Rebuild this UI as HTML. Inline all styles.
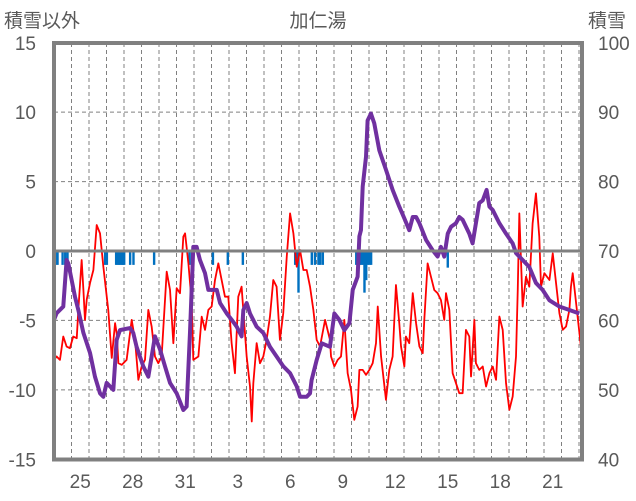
<!DOCTYPE html>
<html><head><meta charset="utf-8">
<style>
body{margin:0;background:#fff;}
svg{display:block;font-family:"Liberation Sans","Noto Sans CJK JP",sans-serif;}
</style></head>
<body>
<svg id="chart" width="636" height="501" viewBox="0 0 636 501">
<text x="4" y="27" font-size="19" fill="#595959">積雪以外</text>
<text x="318" y="27" font-size="19" fill="#595959" text-anchor="middle">加仁湯</text>
<text x="588" y="27" font-size="19" fill="#595959">積雪</text>
<g id="grid"></g>
<g id="bars"></g>
<g id="lines"></g>
<g id="axes"></g>
</svg>
<script>
const dayLabels=["25","28","31","3","6","9","12","15","18","21"];
const leftTicks=[15,10,5,0,-5,-10,-15];
const rightTicks=[100,90,80,70,60,50,40];
const tempTimes=[0,0.15,0.34,0.53,0.72,0.91,1.1,1.3,1.39,1.58,1.68,1.77,1.87,2.06,2.25,2.44,2.63,2.82,3.1,3.3,3.49,3.58,3.68,3.87,4.15,4.44,4.63,4.82,5.01,5.2,5.39,5.58,5.77,5.96,6.15,6.44,6.63,6.82,7.01,7.2,7.39,7.49,7.68,7.87,7.96,8.25,8.44,8.63,8.82,9.01,9.2,9.39,9.58,9.77,9.96,10.15,10.34,10.53,10.72,11.01,11.2,11.3,11.39,11.58,11.77,11.96,12.15,12.34,12.53,12.72,12.91,13.1,13.3,13.49,13.68,13.87,14.06,14.25,14.44,14.63,14.82,15.01,15.2,15.49,15.77,15.83,16.02,16.21,16.4,16.59,16.78,16.97,17.16,17.35,17.45,17.64,17.83,18.02,18.21,18.4,18.5,18.69,18.97,19.16,19.35,19.54,19.73,19.83,20.02,20.11,20.3,20.5,20.69,20.88,21.07,21.16,21.35,21.54,21.73,21.92,22.11,22.3,22.4,22.59,22.78,22.97,23.16,23.35,23.54,23.73,23.83,23.92,24.02,24.11,24.3,24.5,24.69,24.88,25.07,25.26,25.45,25.64,25.83,26.02,26.21,26.4,26.5,26.59,26.78,26.97,27.16,27.35,27.54,27.73,27.83,28.02,28.31,28.5,28.69,28.88,29.07,29.26,29.45,29.54,29.64,29.73,29.92,30.11];
const tempValues=[-7.84,-7.6,-7.84,-6.16,-6.88,-7.0,-6.16,-6.28,-4.24,-0.65,-2.8,-4.96,-3.5,-2.3,-1.37,1.87,1.27,-1.13,-4.24,-7.7,-5.2,-5.92,-8.08,-8.2,-7.84,-4.96,-6.4,-9.28,-8.32,-7.84,-4.24,-5.44,-7.6,-8.08,-7.6,-1.49,-2.8,-6.64,-2.68,-3.04,1.03,1.27,-0.89,-3.76,-7.84,-7.6,-4.73,-5.68,-4.24,-4.0,-2.09,-0.89,-2.09,-3.29,-3.29,-6.64,-8.8,-3.29,-2.57,-7.6,-9.76,-12.28,-9.52,-6.64,-8.08,-7.6,-6.4,-4.73,-2.09,-2.57,-6.4,-4.48,-0.41,2.71,1.27,-1.13,0.07,-1.37,-1.37,-2.57,-4.24,-6.4,-6.88,-4.96,-6.4,-7.6,-8.32,-7.84,-7.6,-4.96,-8.8,-10.0,-12.16,-11.2,-8.56,-8.56,-8.92,-8.56,-8.08,-6.64,-4.0,-7.6,-10.72,-8.56,-7.6,-2.45,-5.2,-6.88,-8.32,-6.16,-6.64,-3.04,-5.2,-6.88,-7.36,-4.96,-0.89,-1.85,-2.81,-3.04,-3.53,-4.96,-3.04,-4.24,-8.8,-9.52,-10.24,-10.24,-5.68,-6.16,-9.04,-7.12,-4.96,-8.08,-8.56,-8.32,-9.76,-8.8,-8.32,-9.28,-4.72,-5.68,-9.52,-11.44,-10.48,-7.6,-2.81,2.71,-4.0,-1.85,-2.57,1.99,4.15,1.03,-2.57,-1.6,-2.09,-0.17,-2.33,-4.48,-5.68,-5.44,-4.24,-2.57,-1.6,-2.57,-4.72,-6.88];
const snowTimes=[0,0.15,0.53,0.72,0.82,1.01,1.2,1.39,1.68,2.06,2.34,2.63,2.82,3.01,3.39,3.58,3.77,4.34,4.53,4.72,5.1,5.39,5.58,5.77,6.06,6.34,6.63,7.01,7.39,7.58,7.77,7.96,8.15,8.34,8.63,8.82,9.3,9.49,9.87,10.15,10.44,10.72,10.82,11.01,11.2,11.58,11.96,12.34,12.72,13.1,13.49,13.87,14.06,14.44,14.63,14.72,15.01,15.3,15.77,16.02,16.3,16.59,16.88,17.07,17.35,17.45,17.54,17.64,17.83,17.92,18.11,18.3,18.59,18.97,19.35,19.73,20.02,20.3,20.5,20.69,20.88,21.26,21.64,21.92,22.11,22.3,22.5,22.69,22.97,23.16,23.35,23.73,23.92,24.11,24.3,24.5,24.72,24.88,25.07,25.45,25.83,26.21,26.4,26.78,27.16,27.54,27.92,28.31,28.88,29.45,30.02];
const snowValues=[60.07,61.04,61.99,68.7,68.2,65.8,63.4,61.5,58.2,55.3,51.9,49.5,49.0,51.0,50.0,57.2,58.6,58.9,58.2,56.2,53.4,51.9,54.8,57.7,55.8,53.4,51.0,49.5,47.1,47.6,58.2,70.6,70.6,68.7,66.8,64.4,64.4,62.5,61.0,60.1,59.1,57.7,61.5,62.5,61.0,59.1,58.2,56.2,54.8,53.4,52.4,50.5,49.0,49.0,49.5,51.4,54.3,56.7,56.2,61.0,60.1,58.6,59.6,64.4,66.3,72.1,73.0,79.3,83.6,88.8,89.8,88.4,84.5,81.7,78.8,76.4,74.7,73.0,74.9,74.9,74.0,71.6,70.1,69.2,70.6,69.2,72.5,73.5,74.0,74.9,74.5,72.5,71.1,74.0,76.9,77.3,78.8,76.4,75.9,74.0,72.5,71.1,69.7,68.7,67.7,65.4,64.4,62.9,62.0,61.5,61.0];
const precipTimes=[0.06,0.19,0.48,0.63,0.76,2.91,3.01,3.54,3.62,3.7,3.78,3.86,3.93,4.0,4.34,4.53,5.71,7.73,7.87,9.07,9.92,10.78,13.77,13.87,13.96,14.72,14.9,15.1,15.2,15.35,17.26,17.35,17.45,17.55,17.64,17.73,17.83,17.92,18.02,18.11,22.49];
const precipValues=[1,1,1,1,1,1,1,1,1,1,1,1,1,1,1,1,1,1,1,1,1,1,1,1,3,1,1,1,1,1,1,1,1,1,1,3,2.1,1,1,1,1.2];

const X0=54,X1=582,Y0=43,Y1=459.5,DAY=17.5;
const xs=t=>X0+t*DAY;
const yL=v=>251-v*(Y1-Y0)/30;
const yR=v=>yL((v-70)/2);
const NS='http://www.w3.org/2000/svg';
function mk(tag,attrs,parent){const e=document.createElementNS(NS,tag);for(const k in attrs)e.setAttribute(k,attrs[k]);parent.appendChild(e);return e;}
const grid=document.getElementById('grid'),bars=document.getElementById('bars'),lines=document.getElementById('lines'),axes=document.getElementById('axes');
for(let d=1;d<=30;d++){const x=xs(d);if(x>=X1-2)break;
 const l=mk('line',{x1:x,x2:x,y1:Y0,y2:Y1,stroke:'#808080','stroke-width':1,'stroke-dasharray':'4,3'},grid);
 
 }
leftTicks.forEach(v=>{const y=yL(v);
 if(v!==15&&v!==-15&&v!==0){const l=mk('line',{x1:X0,x2:X1,y1:y,y2:y,stroke:'#808080','stroke-width':1,'stroke-dasharray':'4,3'},grid);
 
 }
 const t=mk('text',{x:36,y:y+7,'font-size':19,fill:'#595959','text-anchor':'end'},axes);t.textContent=v;
 
 });
rightTicks.forEach(v=>{const t=mk('text',{x:598,y:yR(v)+7,'font-size':19,fill:'#595959'},axes);t.textContent=v;
 
 });
dayLabels.forEach((s,i)=>{const t=mk('text',{x:xs(1.5+3*i),y:488,'font-size':19,fill:'#595959','text-anchor':'middle'},axes);t.textContent=s;
 
 });
precipTimes.forEach((t,i)=>{const h=precipValues[i]*(Y1-Y0)/30;
 const r=mk('rect',{x:xs(t)-1,y:251,width:2.4,height:h,fill:'#0070c0'},bars);
 
 });
const z=mk('line',{x1:X0,x2:X1,y1:yL(0),y2:yL(0),stroke:'#808080','stroke-width':3},axes);


const tp=mk('polyline',{points:tempTimes.map((t,i)=>xs(t)+','+yL(tempValues[i])).join(' '),fill:'none',stroke:'#ff0000','stroke-width':1.8,'stroke-linejoin':'round'},lines);


const sp=mk('polyline',{points:snowTimes.map((t,i)=>xs(t)+','+yR(snowValues[i])).join(' '),fill:'none',stroke:'#7030a0','stroke-width':4,'stroke-linejoin':'round'},lines);


const b=mk('rect',{x:X0,y:Y0,width:X1-X0,height:Y1-Y0,fill:'none',stroke:'#808080','stroke-width':4},axes);


</script>
</body></html>
